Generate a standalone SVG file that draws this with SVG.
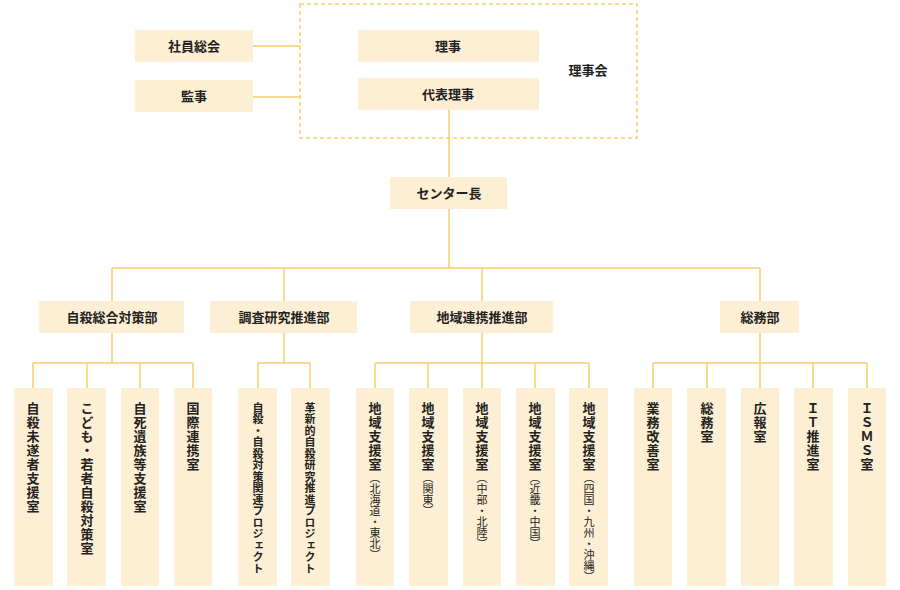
<svg xmlns="http://www.w3.org/2000/svg" width="900" height="590" viewBox="0 0 900 590">
<style>
.b{fill:#fdefd3}
.t{font-family:"Noto Sans CJK JP",sans-serif;font-size:13px;font-weight:bold;fill:#222;text-anchor:middle}
.v{font-family:"Noto Sans CJK JP",sans-serif;font-size:13px;font-weight:bold;fill:#222;writing-mode:vertical-rl;text-orientation:upright;letter-spacing:1px}
.s{font-size:11px;font-weight:normal;letter-spacing:0px}
.p{font-size:11px;letter-spacing:0.5px}
.c{stroke:#f9cd70;stroke-width:1.5;fill:none}
</style>
<rect width="900" height="590" fill="#fff"/>
<g id="connectors" class="c">
<rect x="300" y="4" width="337" height="134" stroke-dasharray="4 3"/>
<path d="M253 46H300M253 97H300M449 110V177M449 209V268M112 268H760M112 268V301M284 268V301M482 268V301M760 268V301"/>
<path d="M112 333V363M33 363H193M33 363V388M87 363V388M140 363V388M193 363V388"/>
<path d="M284 333V363M258 363H310M258 363V388M310 363V388"/>
<path d="M482 333V363M375 363H589M375 363V388M428 363V388M482 363V388M535 363V388M589 363V388"/>
<path d="M760 333V363M653 363H867M653 363V388M707 363V388M760 363V388M813 363V388M867 363V388"/>
</g>
<g id="shainsokai"><rect class="b" x="135" y="30" width="118" height="32"/><text class="t" x="194" y="51">社員総会</text></g>
<g id="kanji"><rect class="b" x="135" y="80" width="118" height="32"/><text class="t" x="194" y="101">監事</text></g>
<g id="riji"><rect class="b" x="358" y="30" width="181" height="32"/><text class="t" x="448" y="51">理事</text></g>
<g id="daihyoriji"><rect class="b" x="358" y="78" width="181" height="32"/><text class="t" x="448" y="99">代表理事</text></g>
<g id="rijikai"><text class="t" x="588" y="75">理事会</text></g>
<g id="center"><rect class="b" x="390" y="177" width="117" height="32"/><text class="t" x="449" y="198">センター長</text></g>
<g id="d1"><rect class="b" x="39" y="301" width="145" height="32"/><text class="t" x="112" y="322">自殺総合対策部</text></g>
<g id="d2"><rect class="b" x="210" y="301" width="147" height="32"/><text class="t" x="284" y="322">調査研究推進部</text></g>
<g id="d3"><rect class="b" x="410" y="301" width="143" height="32"/><text class="t" x="482" y="322">地域連携推進部</text></g>
<g id="d4"><rect class="b" x="720" y="301" width="79" height="32"/><text class="t" x="760" y="322">総務部</text></g>
<g id="u1"><rect class="b" x="14" y="388" width="39" height="198"/><text class="v" x="33" y="402">自殺未遂者支援室</text></g>
<g id="u2"><rect class="b" x="67" y="388" width="39" height="198"/><text class="v" x="87" y="402">こども・若者自殺対策室</text></g>
<g id="u3"><rect class="b" x="121" y="388" width="38" height="198"/><text class="v" x="140" y="402">自死遺族等支援室</text></g>
<g id="u4"><rect class="b" x="174" y="388" width="38" height="198"/><text class="v" x="193" y="402">国際連携室</text></g>
<g id="u5"><rect class="b" x="238" y="388" width="39" height="198"/><text class="v p" x="258" y="402">自殺・自殺対策関連プロジェクト</text></g>
<g id="u6"><rect class="b" x="291" y="388" width="39" height="198"/><text class="v p" x="310" y="402">革新的自殺研究推進プロジェクト</text></g>
<g id="u7"><rect class="b" x="356" y="388" width="38" height="198"/><text class="v" x="375" y="402">地域支援室<tspan class="s">（北海道・東北）</tspan></text></g>
<g id="u8"><rect class="b" x="409" y="388" width="39" height="198"/><text class="v" x="428" y="402">地域支援室<tspan class="s">（関東）</tspan></text></g>
<g id="u9"><rect class="b" x="463" y="388" width="38" height="198"/><text class="v" x="482" y="402">地域支援室<tspan class="s">（中部・北陸）</tspan></text></g>
<g id="u10"><rect class="b" x="516" y="388" width="39" height="198"/><text class="v" x="535" y="402">地域支援室<tspan class="s">（近畿・中国）</tspan></text></g>
<g id="u11"><rect class="b" x="569" y="388" width="39" height="198"/><text class="v" x="589" y="402">地域支援室<tspan class="s">（四国・九州・沖縄）</tspan></text></g>
<g id="u12"><rect class="b" x="634" y="388" width="38" height="198"/><text class="v" x="653" y="402">業務改善室</text></g>
<g id="u13"><rect class="b" x="687" y="388" width="39" height="198"/><text class="v" x="707" y="402">総務室</text></g>
<g id="u14"><rect class="b" x="741" y="388" width="38" height="198"/><text class="v" x="760" y="402">広報室</text></g>
<g id="u15"><rect class="b" x="794" y="388" width="39" height="198"/><text class="v" x="813" y="402">ＩＴ推進室</text></g>
<g id="u16"><rect class="b" x="848" y="388" width="38" height="198"/><text class="v" x="867" y="402">ＩＳＭＳ室</text></g>
</svg>
